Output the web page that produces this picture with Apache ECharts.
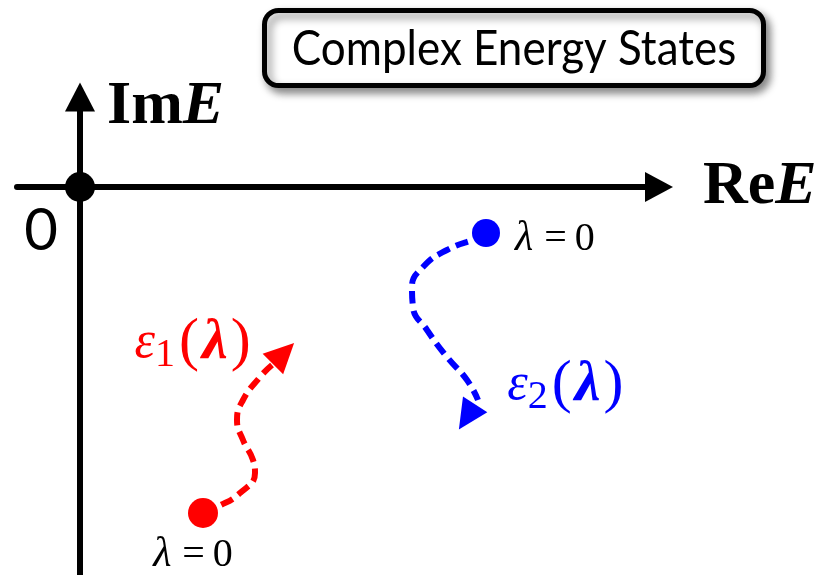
<!DOCTYPE html>
<html>
<head>
<meta charset="utf-8">
<script src="https://cdn.jsdelivr.net/npm/echarts@6/dist/echarts.min.js"></script>
<style>
  html, body { margin: 0; padding: 0; background: #fff; }
  #chart { width: 833px; height: 575px; }
</style>
</head>
<body>
<div id="chart"></div>
<script>
// Complex energy plane (arbitrary units): two eigenvalue trajectories as λ grows from 0.
const reRange = [-0.63, 5.79];
const imRange = [-3.88, 0.90];

const origin = [[0, 0]];

// ε1(λ): starts low in the plane and wanders up-right
const eps1Path = [
  [1.23, -3.26], [1.37, -3.20], [1.60, -3.06], [1.75, -2.86], [1.73, -2.73],
  [1.63, -2.53], [1.57, -2.33], [1.63, -2.13], [1.80, -1.90], [1.92, -1.78]
];
const eps1Head = [2.035, -1.665];

// ε2(λ): starts near the real axis and loops down
const eps2Path = [
  [4.06, -0.46], [4.00, -0.50], [3.67, -0.63], [3.43, -0.80], [3.32, -1.00],
  [3.33, -1.20], [3.47, -1.43], [3.67, -1.70], [3.87, -1.93], [3.98, -2.13]
];
const eps2Head = [3.87, -2.30];

const RED = '#ff0000';
const BLUE = '#0000ff';
const SERIF = '"Liberation Serif", "Times New Roman", serif';
const SANS = 'Lato, "Open Sans", sans-serif';

// arrowhead orientation follows the last segment of the path (axes share one scale)
function headRotation(path, head) {
  const last = path[path.length - 1];
  const ang = Math.atan2(head[1] - last[1], head[0] - last[0]) * 180 / Math.PI;
  return ang - 90;
}

const lambdaZero = {
  formatter: '{l|λ}{q|=}{n|0}',
  rich: {
    l: { fontFamily: SERIF, fontStyle: 'italic', fontSize: 42, color: '#000' },
    q: { fontFamily: SERIF, fontSize: 40, color: '#000', padding: [0, 8, 0, 11] },
    n: { fontFamily: SERIF, fontSize: 40, color: '#000' }
  }
};

function epsLabel(idx, color) {
  const base = { fontFamily: SERIF, color: color, lineHeight: 64 };
  return {
    formatter: '{e|ε}{s|' + idx + '}{p|(}{l|λ}{p|)}',
    rich: {
      e: Object.assign({}, base, { fontStyle: 'italic', fontSize: 52 }),
      s: Object.assign({}, base, { fontSize: 40, verticalAlign: 'bottom', lineHeight: 26, padding: [0, 4, 0, 0] }),
      p: Object.assign({}, base, { fontSize: 60 }),
      l: Object.assign({}, base, { fontStyle: 'italic', fontWeight: 'bold', fontSize: 58, padding: [0, 3, 0, 3] })
    }
  };
}

const chart = echarts.init(document.getElementById('chart'), null, { renderer: 'canvas' });

chart.setOption({
  backgroundColor: '#fff',
  animation: false,
  grid: { left: 17, right: 174, top: 97, bottom: 0, containLabel: false },
  xAxis: {
    type: 'value', min: reRange[0], max: reRange[1],
    axisLine: {
      onZero: true, symbol: ['none', 'triangle'], symbolSize: [30, 28],
      lineStyle: { color: '#000', width: 6 }
    },
    axisTick: { show: false }, axisLabel: { show: false }, splitLine: { show: false },
    name: '{a|Re}{b|E}', nameLocation: 'end', nameGap: 44,
    nameTextStyle: {
      verticalAlign: 'middle',
      rich: {
        a: { fontFamily: SERIF, fontWeight: 'bold', fontSize: 62, color: '#000' },
        b: { fontFamily: SERIF, fontWeight: 'bold', fontStyle: 'italic', fontSize: 62, color: '#000' }
      }
    }
  },
  yAxis: {
    type: 'value', min: imRange[0], max: imRange[1],
    axisLine: {
      onZero: true, symbol: ['none', 'triangle'], symbolSize: [30, 29],
      lineStyle: { color: '#000', width: 6 }
    },
    axisTick: { show: false }, axisLabel: { show: false }, splitLine: { show: false },
    name: '{a|Im}{b|E}', nameLocation: 'end', nameGap: -10,
    nameTextStyle: {
      align: 'left', verticalAlign: 'middle', padding: [0, 0, 0, 27],
      rich: {
        a: { fontFamily: SERIF, fontWeight: 'bold', fontSize: 62, color: '#000' },
        b: { fontFamily: SERIF, fontWeight: 'bold', fontStyle: 'italic', fontSize: 62, color: '#000' }
      }
    }
  },
  series: [
    {
      name: 'ε1(λ)', type: 'line', data: eps1Path, smooth: 0.5, showSymbol: false, z: 2,
      lineStyle: { color: RED, width: 6, type: [13, 7], cap: 'butt' }
    },
    {
      name: 'ε2(λ)', type: 'line', data: eps2Path, smooth: 0.5, showSymbol: false, z: 2,
      lineStyle: { color: BLUE, width: 6, type: [13, 7], cap: 'butt' }
    },
    {
      name: 'ε1 head', type: 'scatter', z: 3, symbol: 'triangle', symbolSize: [29, 30],
      symbolRotate: headRotation(eps1Path, eps1Head),
      itemStyle: { color: RED, opacity: 1 },
      label: Object.assign({ show: true, position: 'left', distance: 12, offset: [0, -10] }, epsLabel(1, RED)),
      data: [eps1Head]
    },
    {
      name: 'ε2 head', type: 'scatter', z: 3, symbol: 'triangle', symbolSize: [29, 30],
      symbolRotate: headRotation(eps2Path, eps2Head),
      itemStyle: { color: BLUE, opacity: 1 },
      label: Object.assign({ show: true, position: 'right', distance: 20, offset: [0, -32] }, epsLabel(2, BLUE)),
      data: [eps2Head]
    },
    {
      name: 'ε1 start', type: 'scatter', z: 4, symbol: 'circle', symbolSize: 30,
      itemStyle: { color: RED, opacity: 1 },
      label: Object.assign({ show: true, position: 'bottom', distance: 6, offset: [-10, 0] }, lambdaZero),
      data: [eps1Path[0]]
    },
    {
      name: 'ε2 start', type: 'scatter', z: 4, symbol: 'circle', symbolSize: 28,
      itemStyle: { color: BLUE, opacity: 1 },
      label: Object.assign({ show: true, position: 'right', distance: 15, offset: [0, 6] }, lambdaZero),
      data: [eps2Path[0]]
    },
    {
      name: 'origin', type: 'scatter', z: 4, symbol: 'circle', symbolSize: 30,
      itemStyle: { color: '#000', opacity: 1 },
      label: {
        show: true, formatter: '0', position: 'inside', offset: [-39, 44],
        fontFamily: SANS, fontSize: 58, color: '#000'
      },
      data: origin
    }
  ],
  graphic: [
    {
      type: 'group', left: 262, top: 8,
      children: [
        {
          type: 'rect',
          shape: { x: 2.5, y: 2.5, width: 499, height: 75, r: 14 },
          style: {
            fill: '#fff', stroke: '#000', lineWidth: 5,
            shadowBlur: 8, shadowOffsetX: 4, shadowOffsetY: 5, shadowColor: 'rgba(0,0,0,0.45)'
          }
        },
        {
          type: 'text', x: 252, y: 41, scaleY: 1.12,
          style: {
            text: 'Complex Energy States', fill: '#000',
            font: '44px ' + SANS,
            align: 'center', verticalAlign: 'middle'
          }
        }
      ]
    }
  ]
});
</script>
</body>
</html>
